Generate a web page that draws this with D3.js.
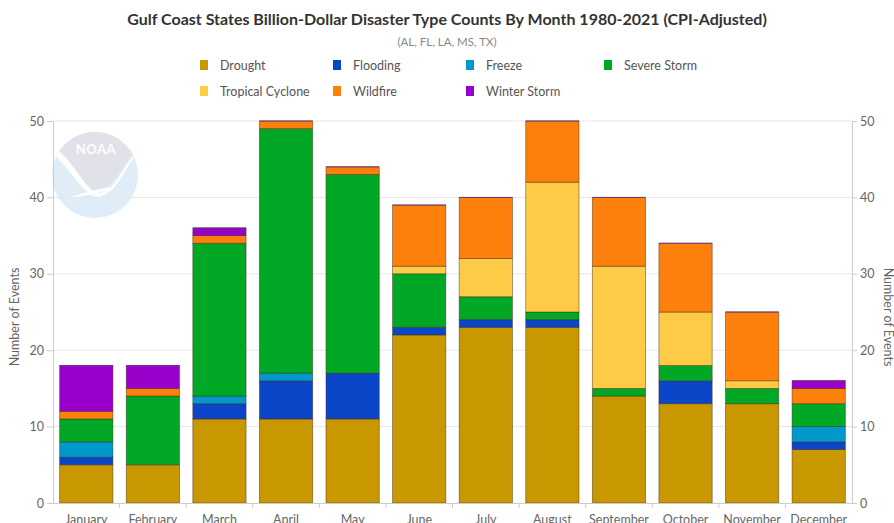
<!DOCTYPE html>
<html>
<head>
<meta charset="utf-8">
<script src="https://cdn.jsdelivr.net/npm/d3@7/dist/d3.min.js"></script>
<style>
  html, body { margin: 0; padding: 0; background: #fff; }
  svg { display: block; font-family: "Lato", "Open Sans", sans-serif; }
</style>
</head>
<body>
<svg id="chart" width="894" height="523"></svg>
<script>
// Billion-dollar disaster counts by month, Gulf Coast states 1980-2021
const months = ["January", "February", "March", "April", "May", "June",
                "July", "August", "September", "October", "November", "December"];
const types = ["Drought", "Flooding", "Freeze", "Severe Storm",
               "Tropical Cyclone", "Wildfire", "Winter Storm"];
const colors = ["#c99700", "#0b45c8", "#0099cc", "#00a826",
                "#fdcb45", "#fd800d", "#9900cc"];

const drought         = [5, 5, 11, 11, 11, 22, 23, 23, 14, 13, 13, 7];
const flooding        = [1, 0, 2, 5, 6, 1, 1, 1, 0, 3, 0, 1];
const freeze          = [2, 0, 1, 1, 0, 0, 0, 0, 0, 0, 0, 2];
const severeStorm     = [3, 9, 20, 32, 26, 7, 3, 1, 1, 2, 2, 3];
const tropicalCyclone = [0, 0, 0, 0, 0, 1, 5, 17, 16, 7, 1, 0];
const wildfire        = [1, 1, 1, 1, 1, 8, 8, 8, 9, 9, 9, 2];
const winterStorm     = [6, 3, 1, 0, 0, 0, 0, 0, 0, 0, 0, 1];

const yTicks = [0, 10, 20, 30, 40, 50];

const series = [drought, flooding, freeze, severeStorm, tropicalCyclone, wildfire, winterStorm];
const table = months.map((m, i) => {
  const row = { month: m };
  types.forEach((t, k) => { row[t] = series[k][i]; });
  return row;
});

const svg = d3.select("#chart");
const W = 894;
const plot = { left: 53, right: 852, top: 121, bottom: 503 };

const x = d3.scaleBand().domain(months).range([plot.left, plot.right]).paddingInner(0.2).paddingOuter(0.1);
const xBand = d3.scaleBand().domain(months).range([plot.left, plot.right]).padding(0);
const y = d3.scaleLinear().domain([0, 50]).range([plot.bottom, plot.top]);

// Title block
svg.append("text").attr("x", W / 2).attr("y", 25).attr("text-anchor", "middle")
  .attr("font-size", 16).attr("font-weight", 700).attr("fill", "#333")
  .text("Gulf Coast States Billion-Dollar Disaster Type Counts By Month 1980-2021 (CPI-Adjusted)");
svg.append("text").attr("x", W / 2).attr("y", 46).attr("text-anchor", "middle")
  .attr("font-size", 11.5).attr("fill", "#888")
  .text("(AL, FL, LA, MS, TX)");

// Legend
const legendCols = [200, 333, 466, 604];
const legendRows = [66, 92];
types.forEach((t, k) => {
  const col = k < 4 ? k : k - 4;
  const row = k < 4 ? 0 : 1;
  const g = svg.append("g").attr("transform", `translate(${legendCols[col]},${legendRows[row]})`);
  g.append("rect").attr("x", 0).attr("y", -6).attr("width", 8).attr("height", 10).attr("fill", colors[k]);
  g.append("text").attr("x", 20).attr("y", 4).attr("font-size", 12.5).attr("fill", "#555").text(t);
});

// NOAA emblem behind the plot
const logo = svg.append("g").attr("opacity", 0.85);
const cx = 95, cy = 175, r = 43;
logo.append("clipPath").attr("id", "logoClip").append("circle").attr("cx", cx).attr("cy", cy).attr("r", r);
logo.append("circle").attr("cx", cx).attr("cy", cy).attr("r", r).attr("fill", "#d9eaf6");
logo.append("path").attr("clip-path", "url(#logoClip)")
  .attr("d", `M${cx - 50},${cy - 60} L${cx + 50},${cy - 60} L${cx + 50},${cy - 30}
              C${cx + 30},${cy - 20} ${cx + 25},${cy + 8} ${cx + 4},${cy + 16}
              C${cx - 10},${cy + 20} ${cx - 22},${cy - 15} ${cx - 50},${cy - 30} Z`)
  .attr("fill", "#dcdde6");
logo.append("path").attr("clip-path", "url(#logoClip)")
  .attr("d", `M${cx - 46},${cy - 30} C${cx - 22},${cy - 20} ${cx - 10},${cy + 18} ${cx + 4},${cy + 18}
              C${cx + 22},${cy + 16} ${cx + 28},${cy - 12} ${cx + 42},${cy - 22}
              C${cx + 30},${cy - 6} ${cx + 22},${cy + 18} ${cx + 4},${cy + 22}
              C${cx - 10},${cy + 24} ${cx - 24},${cy - 8} ${cx - 46},${cy - 24} Z`)
  .attr("fill", "#fff");
logo.append("path")
  .attr("d", `M${cx - 28},${cy + 23} C${cx - 12},${cy + 18} ${cx + 8},${cy + 13} ${cx + 22},${cy + 11}
              C${cx + 8},${cy + 17} ${cx - 10},${cy + 22} ${cx - 28},${cy + 23} Z`)
  .attr("fill", "#fff");
logo.append("text").attr("x", cx + 1).attr("y", cy - 21).attr("text-anchor", "middle")
  .attr("font-size", 13).attr("font-weight", 700).attr("fill", "#fff").attr("letter-spacing", 0.5)
  .text("NOAA");

// Gridlines
svg.append("g").selectAll("line").data(yTicks.slice(1)).join("line")
  .attr("x1", plot.left).attr("x2", plot.right)
  .attr("y1", d => y(d)).attr("y2", d => y(d))
  .attr("stroke", "#e6e6e6").attr("stroke-width", 1);

// Stacked bars
const stack = d3.stack().keys(types)(table);
const barGroup = svg.append("g");
stack.forEach((layer, k) => {
  barGroup.append("g").selectAll("rect")
    .data(layer.filter(d => d[1] - d[0] > 0))
    .join("rect")
    .attr("x", d => x(d.data.month))
    .attr("width", x.bandwidth())
    .attr("y", d => y(d[1]))
    .attr("height", d => y(d[0]) - y(d[1]))
    .attr("fill", colors[k])
    .attr("stroke", "rgba(60,40,20,0.55)")
    .attr("stroke-width", 0.8);
});
// Top edge of each stack
const topLayer = stack[stack.length - 1];
barGroup.append("g").selectAll("line").data(topLayer).join("line")
  .attr("x1", d => x(d.data.month)).attr("x2", d => x(d.data.month) + x.bandwidth())
  .attr("y1", d => y(d[1])).attr("y2", d => y(d[1]))
  .attr("stroke", "#6b3a78").attr("stroke-width", 1);

// Left axis
const leftAxis = svg.append("g").attr("transform", `translate(${plot.left},0)`)
  .call(d3.axisLeft(y).tickValues(yTicks).tickSize(6).tickPadding(3));
// Right axis
const rightAxis = svg.append("g").attr("transform", `translate(${plot.right},0)`)
  .call(d3.axisRight(y).tickValues(yTicks).tickSize(5).tickPadding(3));
[leftAxis, rightAxis].forEach(a => {
  a.select(".domain").attr("stroke", "#ccc");
  a.selectAll(".tick line").attr("stroke", "#ccc");
  a.selectAll(".tick text").attr("font-size", 12.5).attr("fill", "#666")
    .attr("font-family", "Lato, 'Open Sans', sans-serif");
});

// Bottom axis
const bottomAxis = svg.append("g").attr("transform", `translate(0,${plot.bottom})`)
  .call(d3.axisBottom(x).tickSize(0).tickPadding(12));
bottomAxis.select(".domain").attr("stroke", "#ccc");
bottomAxis.selectAll(".tick text").attr("font-size", 12.5).attr("fill", "#666")
  .attr("font-family", "Lato, 'Open Sans', sans-serif");
// Category boundary ticks
svg.append("g").selectAll("line").data(months.slice(1)).join("line")
  .attr("x1", d => xBand(d)).attr("x2", d => xBand(d))
  .attr("y1", plot.bottom).attr("y2", plot.bottom + 5)
  .attr("stroke", "#ccc");

// Axis titles
svg.append("text").attr("transform", `translate(19,${(plot.top + plot.bottom) / 2 + 5}) rotate(-90)`)
  .attr("text-anchor", "middle").attr("font-size", 12.5).attr("fill", "#666").text("Number of Events");
svg.append("text").attr("transform", `translate(884,${(plot.top + plot.bottom) / 2 + 5}) rotate(90)`)
  .attr("text-anchor", "middle").attr("font-size", 12.5).attr("fill", "#666").text("Number of Events");
</script>
</body>
</html>
